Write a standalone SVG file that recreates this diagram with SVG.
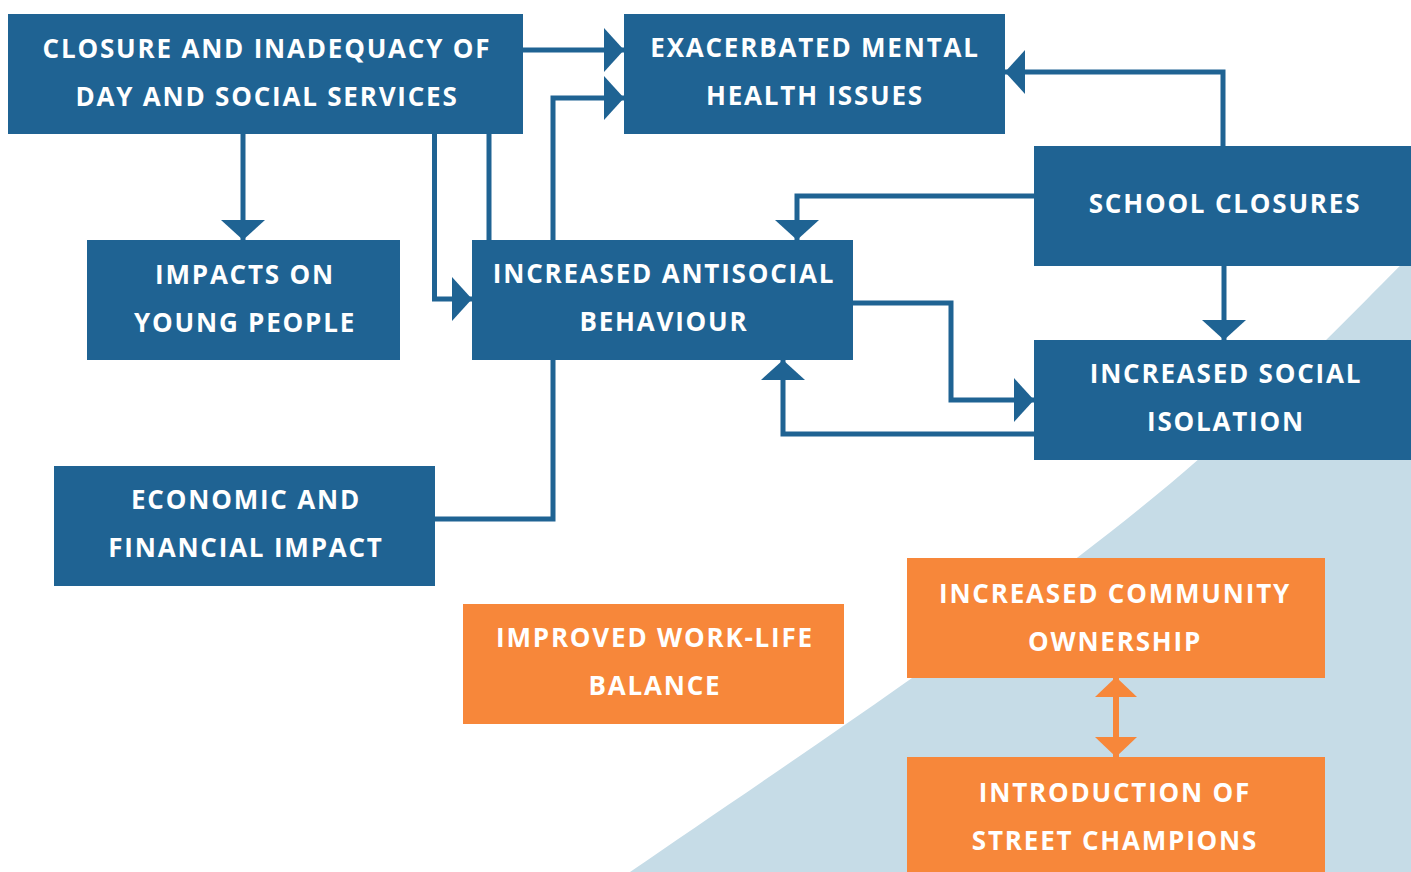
<svg xmlns="http://www.w3.org/2000/svg" width="1411" height="872" viewBox="0 0 1411 872">
<style>
.blue{fill:#1F6393}
.orange{fill:#F7873A}
.t{fill:#FFFFFF;font-family:"Open Sans","Liberation Sans",sans-serif;font-weight:700;font-size:26px;letter-spacing:1.8px;text-anchor:middle}
.c{fill:none;stroke:#1F6393;stroke-width:5}
.co{fill:none;stroke:#F7873A;stroke-width:6}
</style>
<defs>
<marker id="ah" markerUnits="userSpaceOnUse" markerWidth="20" markerHeight="44" refX="20" refY="22" orient="auto" viewBox="0 0 20 44"><path d="M0,0 L20,22 L0,44 Z" fill="#1F6393"/></marker>
<marker id="aho" markerUnits="userSpaceOnUse" markerWidth="20" markerHeight="42" refX="20" refY="21" orient="auto-start-reverse" viewBox="0 0 20 42"><path d="M0,0 L20,21 L0,42 Z" fill="#F7873A"/></marker>
</defs>
<rect width="1411" height="872" fill="#FFFFFF"/>
<path id="background" d="M630,872 C800,755 1050,590 1200,458 C1300,370 1360,305 1411,255 L1411,872 Z" fill="#C6DCE7"/>
<g id="connectors">
<path class="c" d="M523,50 H624" marker-end="url(#ah)"/>
<path class="c" d="M435,519 H553 V98 H624" marker-end="url(#ah)"/>
<path class="c" d="M243,134 V240" marker-end="url(#ah)"/>
<path class="c" d="M434.5,134 V299 H472" marker-end="url(#ah)"/>
<path class="c" d="M489,134 V240"/>
<path class="c" d="M1034,196 H797 V240" marker-end="url(#ah)"/>
<path class="c" d="M853,303 H951 V400 H1034" marker-end="url(#ah)"/>
<path class="c" d="M1034,434 H783 V360" marker-end="url(#ah)"/>
<path class="c" d="M1223,146 V72 H1005" marker-end="url(#ah)"/>
<path class="c" d="M1224,266 V340" marker-end="url(#ah)"/>
<path class="co" d="M1116,677 V757" marker-start="url(#aho)" marker-end="url(#aho)"/>
</g>
<g id="node-closure">
<rect class="blue" x="8" y="14" width="515" height="120"/>
<text class="t" x="267" y="58">CLOSURE AND INADEQUACY OF</text>
<text class="t" x="267" y="106">DAY AND SOCIAL SERVICES</text>
</g>
<g id="node-mental">
<rect class="blue" x="624" y="14" width="381" height="120"/>
<text class="t" x="815" y="57">EXACERBATED MENTAL</text>
<text class="t" x="815" y="105">HEALTH ISSUES</text>
</g>
<g id="node-school">
<rect class="blue" x="1034" y="146" width="377" height="120"/>
<text class="t" x="1225" y="213">SCHOOL CLOSURES</text>
</g>
<g id="node-young">
<rect class="blue" x="87" y="240" width="313" height="120"/>
<text class="t" x="245" y="284">IMPACTS ON</text>
<text class="t" x="245" y="332">YOUNG PEOPLE</text>
</g>
<g id="node-antisocial">
<rect class="blue" x="472" y="240" width="381" height="120"/>
<text class="t" x="664" y="283">INCREASED ANTISOCIAL</text>
<text class="t" x="664" y="331">BEHAVIOUR</text>
</g>
<g id="node-isolation">
<rect class="blue" x="1034" y="340" width="377" height="120"/>
<text class="t" x="1226" y="383">INCREASED SOCIAL</text>
<text class="t" x="1226" y="431">ISOLATION</text>
</g>
<g id="node-economic">
<rect class="blue" x="54" y="466" width="381" height="120"/>
<text class="t" x="246" y="509">ECONOMIC AND</text>
<text class="t" x="246" y="557">FINANCIAL IMPACT</text>
</g>
<g id="node-worklife">
<rect class="orange" x="463" y="604" width="381" height="120"/>
<text class="t" x="655" y="647">IMPROVED WORK-LIFE</text>
<text class="t" x="655" y="695">BALANCE</text>
</g>
<g id="node-community">
<rect class="orange" x="907" y="558" width="418" height="120"/>
<text class="t" x="1115" y="603">INCREASED COMMUNITY</text>
<text class="t" x="1115" y="651">OWNERSHIP</text>
</g>
<g id="node-champions">
<rect class="orange" x="907" y="757" width="418" height="120"/>
<text class="t" x="1115" y="802">INTRODUCTION OF</text>
<text class="t" x="1115" y="850">STREET CHAMPIONS</text>
</g>
</svg>
